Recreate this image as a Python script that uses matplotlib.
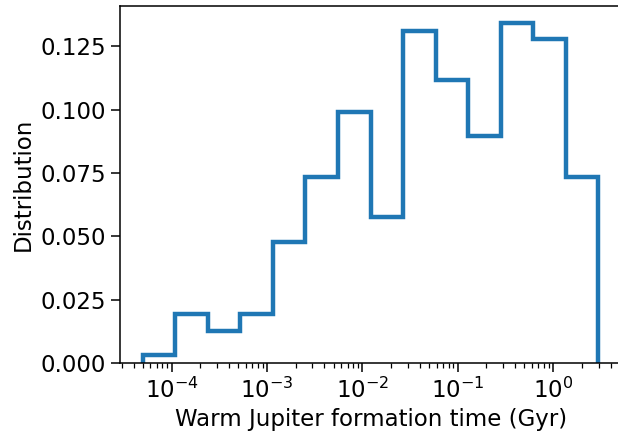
import matplotlib
matplotlib.use("Agg")
import matplotlib.pyplot as plt
import numpy as np

# bin edges of the formation time histogram (Gyr), log spaced
bin_edges = [5.0e-5, 1.096e-4, 2.404e-4, 5.27e-4, 1.156e-3, 2.535e-3, 5.56e-3,
             1.22e-2, 2.68e-2, 5.87e-2, 0.129, 0.282, 0.619, 1.36, 2.98]
# counts per bin
bin_counts = [1, 6, 4, 6, 15, 23, 31, 18, 41, 35, 28, 42, 40, 23]

edges = np.array(bin_edges)
counts = np.array(bin_counts, dtype=float)
fractions = counts / counts.sum()

fig = plt.figure(figsize=(6.18, 4.37), dpi=100)
ax = fig.add_axes([0.1942, 0.1693, 0.811, 0.817])

ax.hist(edges[:-1], bins=edges, weights=fractions, histtype="step",
        linewidth=3.2, color="#1f77b4")
ax.set_xscale("log")

ax.set_xlabel("Warm Jupiter formation time (Gyr)", fontsize=16.5)
ax.set_ylabel("Distribution", fontsize=16.5)
ax.set_yticks([0.0, 0.025, 0.05, 0.075, 0.1, 0.125])
ax.tick_params(which="major", labelsize=16.5, length=6.8, width=1.1)
ax.tick_params(which="minor", length=3.6, width=0.9)
for s in ax.spines.values():
    s.set_linewidth(1.1)
# the right spine sits just past the edge of the saved image
ax.spines["right"].set_visible(False)

fig.savefig("out.png", dpi=100)
